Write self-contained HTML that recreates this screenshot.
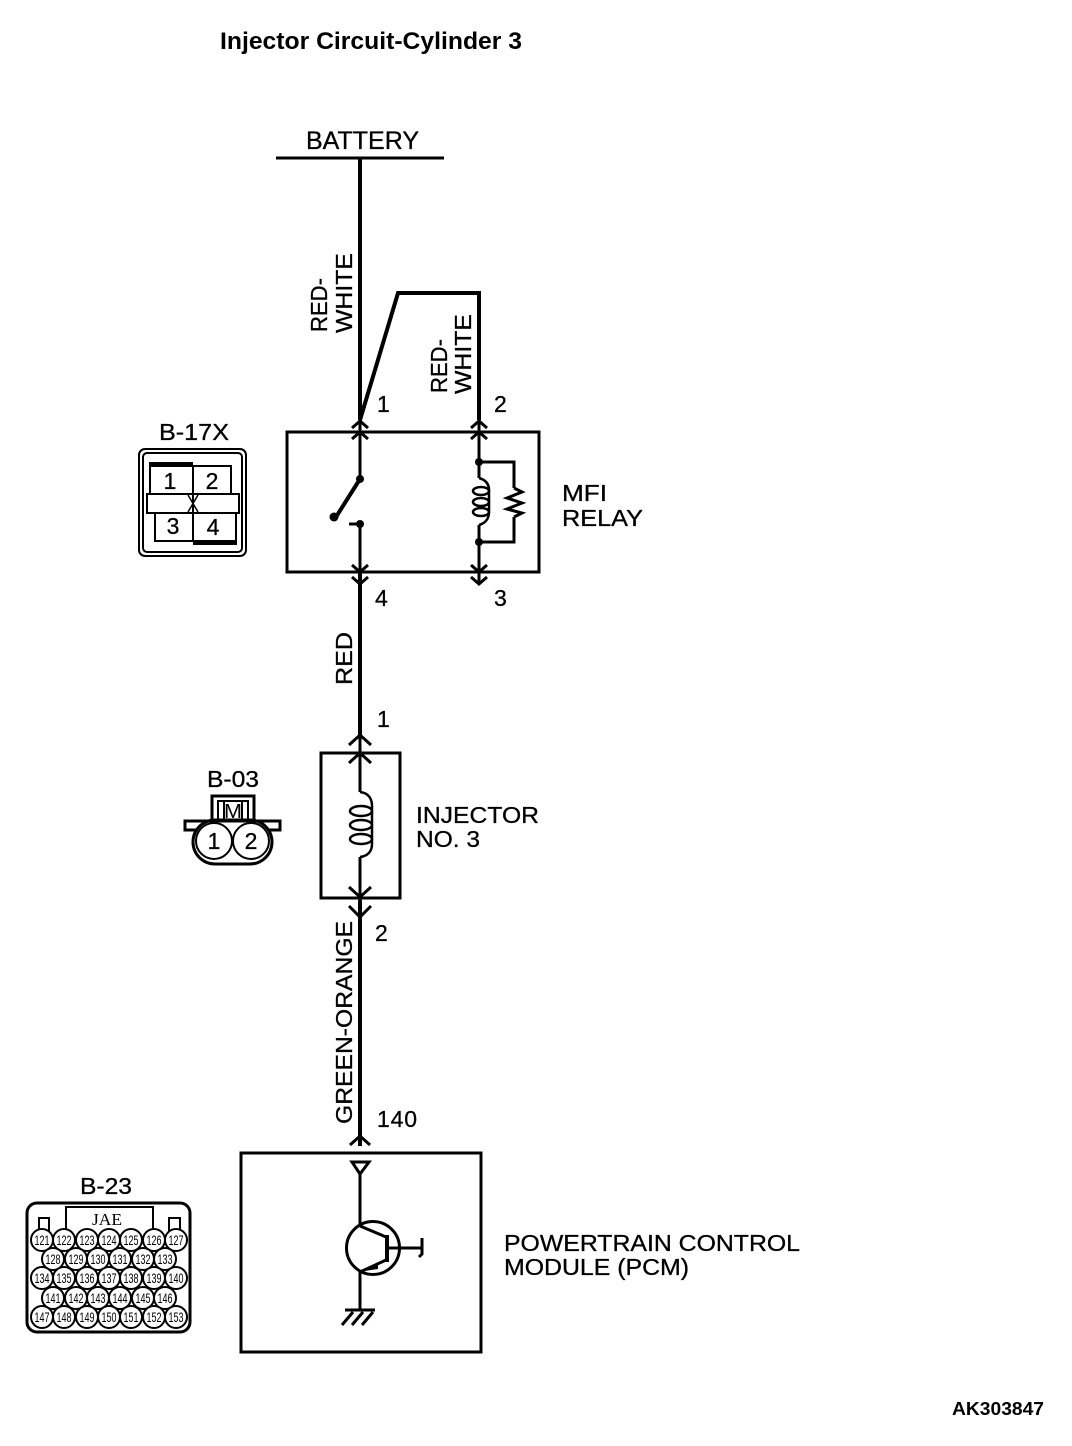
<!DOCTYPE html>
<html><head><meta charset="utf-8"><style>
html,body{margin:0;padding:0;background:#fff}
svg{display:block}
text{font-family:"Liberation Sans",sans-serif;fill:#000}
.l{font-size:25px;stroke:#000;stroke-width:.3}
.s{font-size:23px;stroke:#000;stroke-width:.3}
.n{font-size:14px;text-anchor:middle}
</style></head><body>
<svg width="1072" height="1446" viewBox="0 0 1072 1446" xmlns="http://www.w3.org/2000/svg">
<text x="220" y="49" style="font-size:24px;font-weight:bold" textLength="302" lengthAdjust="spacingAndGlyphs">Injector Circuit-Cylinder 3</text>
<g fill="none" stroke="#000" stroke-width="3">
<path d="M276 158H444"/>
<path d="M360 158V420" stroke-width="4"/>
<path d="M360 420L398 293H479V420" stroke-width="4"/>
<path d="M287 432H539V572H287Z"/>
<path d="M360 420V478M360 524V572"/>
<path d="M360 572V738" stroke-width="4"/>
<path d="M479 420V478M479 525V582"/>
<path d="M352 428L360 421L368 428M352 439L360 432L368 439M352 565L360 572L368 565M352 577L360 584L368 577M471 428L479 421L487 428M471 439L479 432L487 439M471 565L479 572L487 565M471 577L479 584L487 577"/>
<path d="M336 517L360 479" stroke-width="4"/>
<path d="M349 524H360"/>
<path d="M479 462H514V488M514 517V542H479"/>
<path d="M514 488L522 492L507 498L522 503L507 509L522 513L514 517"/>
<path d="M479 478C486 480 489 484 489 490V512C489 518 486 523 479 525" stroke-width="2.5"/>
<g stroke-width="2.5"><ellipse cx="481" cy="491" rx="8" ry="4"/><ellipse cx="481" cy="502" rx="8" ry="4"/><ellipse cx="481" cy="512" rx="8" ry="4"/></g>
<path d="M321 753H400V898H321Z"/>
<path d="M360 738V792M360 857V900"/>
<path d="M360 900V1146" stroke-width="4"/>
<path d="M349 745L360 735L371 745M349 763L360 753L371 763M349 887L360 897L371 887M349 906L360 917L371 906"/>
<path d="M360 792C368 793 372 798 372 806V844C372 851 368 856 360 857" stroke-width="2.5"/>
<g stroke-width="2.5"><ellipse cx="361" cy="811" rx="11" ry="5"/><ellipse cx="361" cy="825" rx="11" ry="5"/><ellipse cx="361" cy="839" rx="11" ry="5"/></g>
<path d="M350 1145L360 1136L370 1145"/>
<path d="M241 1153H481V1352H241Z"/>
<path d="M352 1162H369L360 1174Z"/>
<path d="M360 1174V1226M360 1272V1309"/>
<circle cx="373" cy="1248" r="26.5"/>
<path d="M360 1226L386 1237M360 1272L386 1260"/>
<path d="M387 1235V1262" stroke-width="4"/>
<path d="M387 1248H421M422 1238V1254L419 1257"/>
<path d="M345 1310H375M353 1312L342 1325M363 1312L352 1325M373 1312L362 1325"/>
<rect x="139" y="449" width="107" height="107" rx="6" stroke-width="2"/>
<rect x="143" y="453" width="99" height="99" rx="4" stroke-width="2"/>
<path d="M150 494V466H231V494M155 513V541H236V513M193 466V541" stroke-width="2"/>
<rect x="147" y="494" width="92" height="19" stroke-width="2"/>
<path d="M149 464H193M193 543H237" stroke-width="4"/>
<path d="M188 495L198 512M198 495L188 512" stroke-width="1.5"/>
<path d="M212 820V796H254V820"/>
<path d="M218 820V801H248V820M224 801V820M242 801V820" stroke-width="2"/>
<path d="M196 830H185V821H280V830H269"/>
<rect x="193" y="820" width="79" height="44" rx="22" stroke-width="3"/>
<circle cx="214" cy="841" r="18" stroke-width="2"/>
<circle cx="251" cy="841" r="18" stroke-width="2"/>
<rect x="27" y="1203" width="163" height="129" rx="10" stroke-width="3"/>
<path d="M66 1229V1207H153V1229" stroke-width="2"/>
<path d="M39 1232V1218H49V1232M169 1232V1218H180V1232" stroke-width="2"/>
</g>
<g fill="#000">
<circle cx="360" cy="479" r="4"/><circle cx="360" cy="524" r="4"/><circle cx="334" cy="517" r="4.5"/>
<circle cx="479" cy="462" r="4"/><circle cx="479" cy="542" r="4"/>
<path d="M364 1271L378 1262L378 1269Z"/>
</g>
<g>
<text x="306" y="149" class="l" textLength="113" lengthAdjust="spacingAndGlyphs">BATTERY</text>
<text x="159" y="440" class="s" textLength="70" lengthAdjust="spacingAndGlyphs">B-17X</text>
<text x="207" y="787" class="s" textLength="52" lengthAdjust="spacingAndGlyphs">B-03</text>
<text x="80" y="1194" class="s" textLength="52" lengthAdjust="spacingAndGlyphs">B-23</text>
<text x="377" y="412" class="s">1</text>
<text x="494" y="412" class="s">2</text>
<text x="375" y="606" class="s">4</text>
<text x="494" y="606" class="s">3</text>
<text x="377" y="727" class="s">1</text>
<text x="375" y="941" class="s">2</text>
<text x="377" y="1127" class="s" textLength="40">140</text>
<text x="562" y="501" class="s" textLength="45" lengthAdjust="spacingAndGlyphs">MFI</text>
<text x="562" y="526" class="s" textLength="81" lengthAdjust="spacingAndGlyphs">RELAY</text>
<text x="416" y="823" class="s" textLength="123" lengthAdjust="spacingAndGlyphs">INJECTOR</text>
<text x="416" y="847" class="s" textLength="64" lengthAdjust="spacingAndGlyphs">NO. 3</text>
<text x="504" y="1251" class="s" textLength="296" lengthAdjust="spacingAndGlyphs">POWERTRAIN CONTROL</text>
<text x="504" y="1275" class="s" textLength="185" lengthAdjust="spacingAndGlyphs">MODULE (PCM)</text>
<text x="952" y="1415" style="font-size:18px;font-weight:bold" textLength="92" lengthAdjust="spacingAndGlyphs">AK303847</text>
<text transform="translate(327,332) rotate(-90)" class="s" textLength="54" lengthAdjust="spacingAndGlyphs">RED-</text>
<text transform="translate(352,333) rotate(-90)" class="s" textLength="80" lengthAdjust="spacingAndGlyphs">WHITE</text>
<text transform="translate(447,393) rotate(-90)" class="s" textLength="54" lengthAdjust="spacingAndGlyphs">RED-</text>
<text transform="translate(471,394) rotate(-90)" class="s" textLength="80" lengthAdjust="spacingAndGlyphs">WHITE</text>
<text transform="translate(352,685) rotate(-90)" class="s" textLength="53" lengthAdjust="spacingAndGlyphs">RED</text>
<text transform="translate(352,1124) rotate(-90)" class="s" textLength="203" lengthAdjust="spacingAndGlyphs">GREEN-ORANGE</text>
<text x="170" y="489" class="s" text-anchor="middle">1</text>
<text x="212" y="489" class="s" text-anchor="middle">2</text>
<text x="173" y="534" class="s" text-anchor="middle">3</text>
<text x="213" y="535" class="s" text-anchor="middle">4</text>
<text x="214" y="849" class="s" text-anchor="middle">1</text>
<text x="251" y="849" class="s" text-anchor="middle">2</text>
<text x="224" y="818" style="font-size:20px" textLength="18" lengthAdjust="spacingAndGlyphs">M</text>
<text x="92" y="1225" style="font-family:'Liberation Serif',serif;font-size:17px" textLength="30" lengthAdjust="spacingAndGlyphs">JAE</text>
</g>
<g fill="#fff" stroke="#000" stroke-width="2">
<circle cx="42" cy="1240" r="11"/><circle cx="64" cy="1240" r="11"/><circle cx="87" cy="1240" r="11"/><circle cx="109" cy="1240" r="11"/><circle cx="131" cy="1240" r="11"/><circle cx="154" cy="1240" r="11"/><circle cx="176" cy="1240" r="11"/>
<circle cx="53" cy="1259" r="11"/><circle cx="76" cy="1259" r="11"/><circle cx="98" cy="1259" r="11"/><circle cx="120" cy="1259" r="11"/><circle cx="143" cy="1259" r="11"/><circle cx="165" cy="1259" r="11"/>
<circle cx="42" cy="1278" r="11"/><circle cx="64" cy="1278" r="11"/><circle cx="87" cy="1278" r="11"/><circle cx="109" cy="1278" r="11"/><circle cx="131" cy="1278" r="11"/><circle cx="154" cy="1278" r="11"/><circle cx="176" cy="1278" r="11"/>
<circle cx="53" cy="1298" r="11"/><circle cx="76" cy="1298" r="11"/><circle cx="98" cy="1298" r="11"/><circle cx="120" cy="1298" r="11"/><circle cx="143" cy="1298" r="11"/><circle cx="165" cy="1298" r="11"/>
<circle cx="42" cy="1317" r="11"/><circle cx="64" cy="1317" r="11"/><circle cx="87" cy="1317" r="11"/><circle cx="109" cy="1317" r="11"/><circle cx="131" cy="1317" r="11"/><circle cx="154" cy="1317" r="11"/><circle cx="176" cy="1317" r="11"/>
</g>
<g lengthAdjust="spacingAndGlyphs">
<text class="n" textLength="15" lengthAdjust="spacingAndGlyphs" x="42" y="1245">121</text><text class="n" textLength="15" lengthAdjust="spacingAndGlyphs" x="64" y="1245">122</text><text class="n" textLength="15" lengthAdjust="spacingAndGlyphs" x="87" y="1245">123</text><text class="n" textLength="15" lengthAdjust="spacingAndGlyphs" x="109" y="1245">124</text><text class="n" textLength="15" lengthAdjust="spacingAndGlyphs" x="131" y="1245">125</text><text class="n" textLength="15" lengthAdjust="spacingAndGlyphs" x="154" y="1245">126</text><text class="n" textLength="15" lengthAdjust="spacingAndGlyphs" x="176" y="1245">127</text>
<text class="n" textLength="15" lengthAdjust="spacingAndGlyphs" x="53" y="1264">128</text><text class="n" textLength="15" lengthAdjust="spacingAndGlyphs" x="76" y="1264">129</text><text class="n" textLength="15" lengthAdjust="spacingAndGlyphs" x="98" y="1264">130</text><text class="n" textLength="15" lengthAdjust="spacingAndGlyphs" x="120" y="1264">131</text><text class="n" textLength="15" lengthAdjust="spacingAndGlyphs" x="143" y="1264">132</text><text class="n" textLength="15" lengthAdjust="spacingAndGlyphs" x="165" y="1264">133</text>
<text class="n" textLength="15" lengthAdjust="spacingAndGlyphs" x="42" y="1283">134</text><text class="n" textLength="15" lengthAdjust="spacingAndGlyphs" x="64" y="1283">135</text><text class="n" textLength="15" lengthAdjust="spacingAndGlyphs" x="87" y="1283">136</text><text class="n" textLength="15" lengthAdjust="spacingAndGlyphs" x="109" y="1283">137</text><text class="n" textLength="15" lengthAdjust="spacingAndGlyphs" x="131" y="1283">138</text><text class="n" textLength="15" lengthAdjust="spacingAndGlyphs" x="154" y="1283">139</text><text class="n" textLength="15" lengthAdjust="spacingAndGlyphs" x="176" y="1283">140</text>
<text class="n" textLength="15" lengthAdjust="spacingAndGlyphs" x="53" y="1303">141</text><text class="n" textLength="15" lengthAdjust="spacingAndGlyphs" x="76" y="1303">142</text><text class="n" textLength="15" lengthAdjust="spacingAndGlyphs" x="98" y="1303">143</text><text class="n" textLength="15" lengthAdjust="spacingAndGlyphs" x="120" y="1303">144</text><text class="n" textLength="15" lengthAdjust="spacingAndGlyphs" x="143" y="1303">145</text><text class="n" textLength="15" lengthAdjust="spacingAndGlyphs" x="165" y="1303">146</text>
<text class="n" textLength="15" lengthAdjust="spacingAndGlyphs" x="42" y="1322">147</text><text class="n" textLength="15" lengthAdjust="spacingAndGlyphs" x="64" y="1322">148</text><text class="n" textLength="15" lengthAdjust="spacingAndGlyphs" x="87" y="1322">149</text><text class="n" textLength="15" lengthAdjust="spacingAndGlyphs" x="109" y="1322">150</text><text class="n" textLength="15" lengthAdjust="spacingAndGlyphs" x="131" y="1322">151</text><text class="n" textLength="15" lengthAdjust="spacingAndGlyphs" x="154" y="1322">152</text><text class="n" textLength="15" lengthAdjust="spacingAndGlyphs" x="176" y="1322">153</text>
</g>
</svg>
</body></html>
